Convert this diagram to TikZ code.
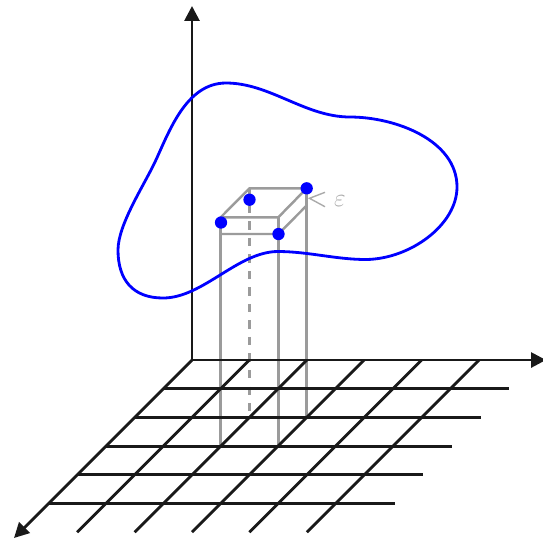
\documentclass[tikz,border=0pt]{standalone}
\usepackage{amsmath}
\usepackage{tikz}
\usetikzlibrary{arrows.meta, calc}

\definecolor{boxgray}{RGB}{155,155,155}
\definecolor{epsgray}{RGB}{170,170,170}

\begin{document}
\begin{tikzpicture}[
    x=0.02cm, y=-0.02cm,
    >={Triangle[length=8.5pt, width=8.5pt]},
    axis/.style={->, line width=1.6pt, draw=black!90},
    gridline/.style={line width=1.6pt, draw=black!90},
    boxline/.style={line width=1.4pt, draw=boxgray},
    hidden/.style={boxline, dash pattern=on 4.7pt off 4.7pt},
    blob/.style={line width=1.6pt, draw=blue},
    pt/.style={circle, fill=blue, inner sep=0pt, minimum size=7pt}
]

\useasboundingbox (0,0) rectangle (543,539);

\coordinate (O) at (192,360);
\coordinate (zend) at (192,6);
\coordinate (xend) at (546,360);
\coordinate (yend) at (14,538);

% column with epsilon slab on top
\coordinate (tbl) at (249.5,188.3);
\coordinate (tbr) at (306.7,188.3);
\coordinate (tfl) at (220.7,217.3);
\coordinate (tfr) at (278.3,217.3);
\coordinate (bfl) at (220.7,234);
\coordinate (bfr) at (278.3,234);
\coordinate (bbr) at (306.7,205.5);
\coordinate (gfl) at (220.7,446.3);
\coordinate (gfr) at (278.3,446.3);
\coordinate (gbr) at (306.7,417.5);
\coordinate (gbl) at (249.5,417.5);

\draw[boxline] (tbl) -- (tbr) -- (tfr) -- (tfl) -- cycle;
\draw[boxline] (bfl) -- (bfr) -- (bbr);
\draw[boxline] (tfl) -- (gfl);
\draw[boxline] (tfr) -- (gfr);
\draw[boxline] (tbr) -- (gbr);
\draw[hidden] (tbl) -- (gbl);

% ground grid
\foreach \k in {1,...,5}
    \draw[gridline] ($(O)+(-28.7*\k,28.7*\k)$) -- ++(346,0);
\foreach \j in {1,...,5}
    \draw[gridline] ($(O)+(57.4*\j,0)$) -- ++(-172.2,172.2);

\draw[axis, <->] (zend) -- (O) -- (xend);
\draw[axis] (O) -- (yend);

\draw[blob] (226,83) .. controls (270,83) and (305,117) .. (350,117)
    .. controls (395,117) and (457,140) .. (457,187)
    .. controls (457,225) and (410,259) .. (366,259.5)
    .. controls (336,259.5) and (308,251.5) .. (278,251.5)
    .. controls (238,251.5) and (203,298) .. (163,298)
    .. controls (133,298) and (118,280) .. (118,250)
    .. controls (118,225) and (143,187) .. (155,162)
    .. controls (169,132) and (186,83) .. (226,83) -- cycle;

\node[pt] (p1) at (306.7,188.3) {};
\node[pt] (p2) at (249.5,199.7) {};
\node[pt] (p3) at (221,222.5) {};
\node[pt] (p4) at (278.5,234) {};

\coordinate (etip) at (309.5,198.3);
\draw[line width=0.8pt, draw=epsgray] (325,192.3) -- (etip) -- (325,206.7);
\node[text=epsgray, font=\fontsize{14}{16}\selectfont] (eps) at (340,200.7) {$\varepsilon$};

\end{tikzpicture}
\end{document}
